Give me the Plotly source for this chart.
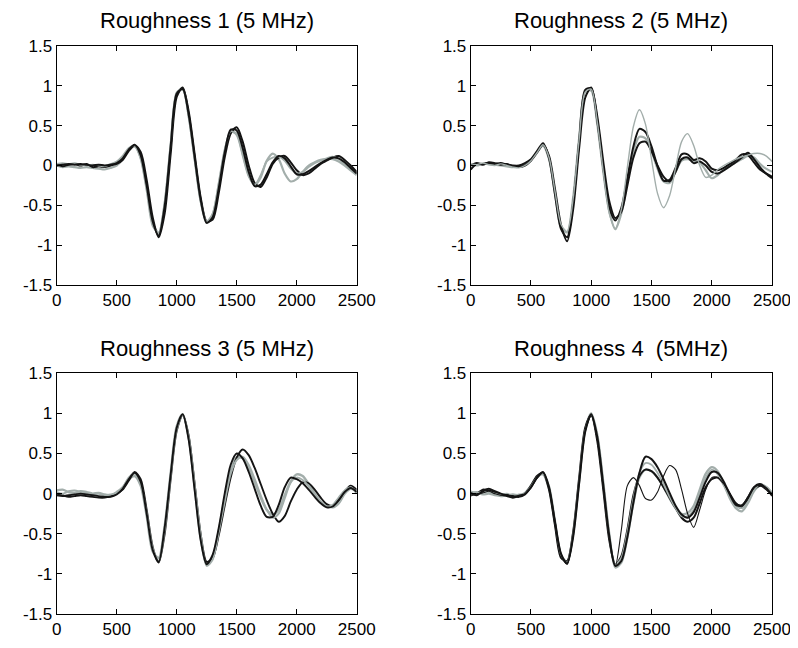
import plotly.graph_objects as go

# sample positions shared by every trace
X_GRID = [0, 50, 100, 150, 200, 250, 300, 350, 400, 450,
          500, 550, 600, 650, 700, 750, 800, 850, 900, 950,
          1000, 1050, 1100, 1150, 1200, 1250, 1300, 1350, 1400, 1450,
          1500, 1550, 1600, 1650, 1700, 1750, 1800, 1850, 1900, 1950,
          2000, 2050, 2100, 2150, 2200, 2250, 2300, 2350, 2400, 2450,
          2500]

TITLES = ["Roughness 1 (5 MHz)", "Roughness 2 (5 MHz)",
          "Roughness 3 (5 MHz)", "Roughness 4  (5MHz)"]

XTICK_VALS = [0, 500, 1000, 1500, 2000, 2500]
XTICK_TEXT = ["0", "500", "1000", "1500", "2000", "2500"]
YTICK_VALS = [-1.5, -1, -0.5, 0, 0.5, 1, 1.5]
YTICK_TEXT = ["-1.5", "-1", "-0.5", "0", "0.5", "1", "1.5"]

# ---- Roughness 1
P1_BLACK_A = [0.0, 0.01, 0.02, 0.01, 0.02, 0.01, 0.0, 0.01, 0.0, 0.01,
              0.03, 0.09, 0.2, 0.26, 0.13, -0.25, -0.7, -0.88, -0.51, 0.24,
              0.9, 0.96, 0.64, 0.1, -0.43, -0.72, -0.65, -0.29, 0.16, 0.45,
              0.44, 0.22, -0.08, -0.26, -0.24, -0.11, 0.04, 0.12, 0.09, -0.01,
              -0.11, -0.11, -0.07, -0.02, 0.03, 0.07, 0.1, 0.09, 0.04, -0.03,
              -0.1]
P1_BLACK_B = [0.02, -0.01, 0.01, 0.02, 0.0, 0.02, -0.02, -0.01, -0.02, 0.0,
              0.02, 0.07, 0.18, 0.25, 0.17, -0.18, -0.65, -0.9, -0.6, 0.15,
              0.86, 0.98, 0.68, 0.14, -0.4, -0.7, -0.68, -0.35, 0.1, 0.4,
              0.48, 0.3, 0.0, -0.22, -0.27, -0.15, 0.02, 0.1, 0.12, 0.04,
              -0.06, -0.12, -0.1, -0.04, 0.02, 0.06, 0.1, 0.12, 0.07, 0.0,
              -0.08]
P1_GRAY_A = [0.0, -0.02, -0.01, -0.02, -0.03, -0.02, -0.03, -0.04, -0.05, -0.03,
             0.0, 0.08, 0.2, 0.24, 0.1, -0.28, -0.72, -0.85, -0.48, 0.26,
             0.9, 0.97, 0.62, 0.08, -0.45, -0.72, -0.62, -0.25, 0.18, 0.42,
             0.4, 0.15, -0.12, -0.25, -0.15, 0.06, 0.15, 0.08, -0.1, -0.2,
             -0.17, -0.08, 0.0, 0.04, 0.07, 0.08, 0.08, 0.05, 0.0, -0.06,
             -0.12]
P1_GRAY_B = [0.02, 0.03, 0.02, 0.03, 0.01, 0.0, 0.01, 0.0, -0.01, 0.02,
             0.05, 0.12, 0.22, 0.25, 0.08, -0.32, -0.76, -0.84, -0.45, 0.28,
             0.92, 0.95, 0.6, 0.06, -0.46, -0.7, -0.6, -0.22, 0.2, 0.43,
             0.38, 0.12, -0.14, -0.24, -0.12, 0.05, 0.1, 0.11, 0.06, -0.04,
             -0.1, -0.08, -0.02, 0.03, 0.06, 0.09, 0.11, 0.08, 0.02, -0.05,
             -0.1]

# ---- Roughness 2
P2_BLACK_A = [-0.05, 0.02, 0.02, 0.03, 0.02, 0.03, 0.01, 0.0, 0.0, 0.03,
              0.08, 0.18, 0.28, 0.09, -0.37, -0.8, -0.9, -0.47, 0.31, 0.95,
              0.97, 0.56, -0.03, -0.53, -0.69, -0.53, -0.16, 0.24, 0.46, 0.42,
              0.24, -0.01, -0.19, -0.18, -0.03, 0.14, 0.14, 0.07, 0.09, 0.05,
              -0.04, -0.06, -0.03, 0.02, 0.07, 0.14, 0.13, 0.04, -0.05, -0.1,
              -0.14]
P2_BLACK_B = [0.0, 0.03, 0.01, 0.04, 0.03, 0.01, 0.02, -0.01, -0.02, 0.0,
              0.06, 0.16, 0.26, 0.12, -0.3, -0.75, -0.95, -0.55, 0.22, 0.85,
              0.98, 0.62, 0.05, -0.45, -0.66, -0.58, -0.25, 0.1, 0.28, 0.3,
              0.18, 0.0, -0.14, -0.2, -0.08, 0.08, 0.1, 0.03, 0.05, 0.0,
              -0.08, -0.1, -0.06, -0.01, 0.04, 0.1, 0.16, 0.08, -0.02, -0.1,
              -0.16]
P2_GRAY_A = [0.01, 0.0, 0.02, 0.02, 0.01, 0.0, -0.01, -0.02, -0.01, 0.02,
             0.07, 0.17, 0.25, 0.08, -0.36, -0.78, -0.84, -0.4, 0.35, 0.93,
             0.94, 0.52, -0.08, -0.58, -0.8, -0.6, -0.2, 0.18, 0.36, 0.34,
             0.18, -0.04, -0.2, -0.22, -0.08, 0.06, 0.08, 0.06, 0.04, -0.06,
             -0.16, -0.12, -0.05, 0.0, 0.04, 0.08, 0.12, 0.1, 0.02, -0.04,
             -0.08]
P2_GRAY_OUT = [0.02, 0.01, 0.03, 0.01, 0.0, 0.02, 0.0, -0.02, -0.03, 0.0,
               0.06, 0.16, 0.26, 0.1, -0.33, -0.74, -0.83, -0.42, 0.33, 0.92,
               0.96, 0.55, -0.08, -0.6, -0.79, -0.55, -0.02, 0.49, 0.7, 0.52,
               0.08, -0.35, -0.53, -0.38, -0.03, 0.3, 0.4, 0.25, 0.0, -0.15,
               -0.12, -0.05, 0.0, 0.04, 0.08, 0.11, 0.13, 0.15, 0.15, 0.12,
               0.05]

# ---- Roughness 3
P3_BLACK_A = [-0.02, -0.03, -0.02, -0.01, 0.0, -0.01, -0.02, -0.03, -0.04, -0.04,
              -0.01, 0.06, 0.18, 0.26, 0.15, -0.25, -0.7, -0.85, -0.42, 0.24,
              0.82, 0.99, 0.67, 0.04, -0.58, -0.88, -0.76, -0.43, 0.0, 0.36,
              0.5, 0.44, 0.27, 0.06, -0.15, -0.29, -0.29, -0.14, 0.08, 0.2,
              0.18, 0.13, 0.05, -0.04, -0.12, -0.17, -0.16, -0.08, 0.02, 0.07,
              0.02]
P3_BLACK_B = [0.0, -0.02, -0.04, -0.03, -0.02, -0.03, -0.04, -0.05, -0.05, -0.03,
              0.0, 0.05, 0.16, 0.27, 0.18, -0.2, -0.66, -0.86, -0.5, 0.18,
              0.78, 0.98, 0.72, 0.12, -0.5, -0.85, -0.8, -0.52, -0.15, 0.2,
              0.45, 0.55, 0.48, 0.32, 0.12, -0.08, -0.25, -0.35, -0.28, -0.1,
              0.05, 0.14, 0.13, 0.05, -0.05, -0.13, -0.15, -0.08, 0.03, 0.1,
              0.05]
P3_GRAY_A = [0.04, 0.05, 0.02, 0.01, 0.03, 0.02, 0.0, 0.01, -0.01, -0.02,
             0.02, 0.08, 0.18, 0.22, 0.1, -0.28, -0.72, -0.8, -0.4, 0.26,
             0.84, 0.99, 0.7, 0.08, -0.56, -0.88, -0.8, -0.47, -0.07, 0.28,
             0.45, 0.44, 0.32, 0.14, -0.05, -0.2, -0.26, -0.2, -0.02, 0.15,
             0.24, 0.22, 0.12, 0.0, -0.1, -0.15, -0.17, -0.12, 0.0, 0.06,
             0.03]
P3_GRAY_B = [0.02, 0.0, 0.03, 0.04, 0.02, 0.0, -0.01, 0.0, -0.02, -0.01,
             0.01, 0.07, 0.2, 0.25, 0.12, -0.24, -0.68, -0.84, -0.45, 0.22,
             0.8, 0.98, 0.7, 0.1, -0.52, -0.9, -0.82, -0.48, -0.1, 0.25,
             0.42, 0.46, 0.36, 0.18, -0.02, -0.2, -0.3, -0.25, -0.06, 0.14,
             0.2, 0.17, 0.09, -0.02, -0.1, -0.16, -0.14, -0.05, 0.04, 0.08,
             0.0]

# ---- Roughness 4
P4_BLACK_A = [0.0, -0.02, 0.03, 0.06, 0.03, 0.0, -0.02, -0.03, -0.04, -0.01,
              0.08, 0.2, 0.27, 0.08, -0.36, -0.75, -0.87, -0.54, 0.13, 0.77,
              0.99, 0.71, 0.11, -0.53, -0.9, -0.84, -0.54, -0.11, 0.26, 0.46,
              0.43, 0.33, 0.18, 0.01, -0.15, -0.26, -0.3, -0.23, -0.05, 0.15,
              0.27, 0.26, 0.15, -0.01, -0.14, -0.15, -0.05, 0.08, 0.12, 0.07,
              -0.02]
P4_BLACK_B = [0.02, 0.0, 0.05, 0.04, 0.02, -0.01, -0.03, -0.05, -0.03, 0.0,
              0.1, 0.22, 0.26, 0.05, -0.4, -0.8, -0.84, -0.48, 0.2, 0.82,
              0.98, 0.66, 0.05, -0.58, -0.88, -0.78, -0.45, -0.02, 0.22, 0.3,
              0.28, 0.2, 0.08, -0.05, -0.18, -0.3, -0.35, -0.3, -0.12, 0.08,
              0.18, 0.2, 0.12, 0.0, -0.12, -0.17, -0.08, 0.05, 0.1, 0.08,
              0.0]
P4_BLACK_OUT = [-0.03, 0.0, 0.01, 0.03, 0.0, -0.02, -0.01, -0.04, -0.02, 0.0,
                0.07, 0.19, 0.26, 0.08, -0.34, -0.76, -0.88, -0.52, 0.15, 0.78,
                0.97, 0.68, 0.08, -0.55, -0.9, -0.45, 0.1, 0.2, 0.1, -0.06,
                -0.08, 0.02, 0.22, 0.35, 0.3, 0.05, -0.25, -0.42, -0.2, 0.05,
                0.2, 0.2, 0.12, 0.0, -0.12, -0.14, -0.04, 0.08, 0.1, 0.05,
                -0.03]
P4_GRAY_A = [0.01, 0.02, -0.01, 0.0, -0.02, -0.03, -0.02, -0.01, -0.02, 0.01,
             0.1, 0.21, 0.24, 0.06, -0.38, -0.78, -0.85, -0.5, 0.16, 0.8,
             1.0, 0.74, 0.15, -0.5, -0.92, -0.86, -0.55, -0.12, 0.2, 0.3,
             0.28, 0.2, 0.08, -0.06, -0.18, -0.25, -0.24, -0.15, 0.05, 0.25,
             0.33, 0.28, 0.12, -0.06, -0.18, -0.22, -0.12, 0.03, 0.1, 0.08,
             0.0]
P4_GRAY_B = [0.03, 0.01, 0.02, 0.02, 0.0, -0.01, 0.0, -0.03, -0.01, 0.0,
             0.09, 0.2, 0.25, 0.1, -0.33, -0.76, -0.86, -0.52, 0.14, 0.78,
             0.98, 0.72, 0.13, -0.52, -0.88, -0.8, -0.48, -0.06, 0.26, 0.38,
             0.36, 0.26, 0.12, -0.04, -0.18, -0.28, -0.28, -0.2, 0.0, 0.2,
             0.3, 0.24, 0.1, -0.04, -0.15, -0.18, -0.1, 0.04, 0.12, 0.09,
             0.02]

BLACK = "#141414"
GRAY = "#a3aeab"

# (y values, colour, width) drawn in order, per panel
panels = [
    [(P1_GRAY_A, GRAY, 2.2), (P1_BLACK_B, BLACK, 2.0), (P1_GRAY_B, GRAY, 1.8), (P1_BLACK_A, BLACK, 2.0)],
    [(P2_GRAY_A, GRAY, 2.2), (P2_BLACK_B, BLACK, 2.0), (P2_BLACK_A, BLACK, 2.0), (P2_GRAY_OUT, GRAY, 1.4)],
    [(P3_GRAY_A, GRAY, 2.4), (P3_BLACK_B, BLACK, 1.9), (P3_GRAY_B, GRAY, 2.0), (P3_BLACK_A, BLACK, 1.9)],
    [(P4_GRAY_A, GRAY, 2.2), (P4_BLACK_B, BLACK, 2.0), (P4_GRAY_B, GRAY, 1.8), (P4_BLACK_A, BLACK, 2.0),
     (P4_BLACK_OUT, BLACK, 1.1)],
]

# the page body adds an 8px margin, so the figure is 790x640 and
# domains are measured from that offset
x_domains = [[0.0616, 0.4414], [0.5857, 0.9671], [0.0616, 0.4414], [0.5857, 0.9671]]
y_domains = [[0.5672, 0.9406], [0.5672, 0.9406], [0.0531, 0.4292], [0.0531, 0.4292]]
title_y = [0.9797, 0.9797, 0.4672, 0.4672]

FONT = "Liberation Sans, Arial, sans-serif"

fig = go.Figure()
for i, traces in enumerate(panels):
    n = "" if i == 0 else str(i + 1)
    for ys, col, w in traces:
        fig.add_trace(go.Scatter(
            x=X_GRID, y=ys, mode="lines",
            line=dict(color=col, width=w, shape="spline", smoothing=0.8),
            xaxis="x" + n, yaxis="y" + n, showlegend=False, hoverinfo="skip"))

layout = dict(
    width=790, height=640,
    margin=dict(l=0, r=0, t=0, b=0),
    paper_bgcolor="white", plot_bgcolor="white",
    font=dict(family=FONT, color="black"),
    showlegend=False,
    annotations=[],
)
for i in range(4):
    n = "" if i == 0 else str(i + 1)
    common = dict(
        ticks="inside", ticklen=5, tickcolor="black",
        showline=True, linecolor="black", linewidth=1, mirror="ticks",
        showgrid=False, zeroline=False, automargin=False,
        tickfont=dict(size=17, family=FONT, color="black"))
    layout["xaxis" + n] = dict(
        domain=x_domains[i], anchor="y" + n, range=[0, 2500],
        tickvals=XTICK_VALS, ticktext=XTICK_TEXT, **common)
    layout["yaxis" + n] = dict(
        domain=y_domains[i], anchor="x" + n, range=[-1.5, 1.5],
        tickvals=YTICK_VALS, ticktext=YTICK_TEXT, **common)
    layout["annotations"].append(dict(
        text=TITLES[i], xref="paper", yref="paper",
        x=sum(x_domains[i]) / 2, y=title_y[i],
        xanchor="center", yanchor="middle", showarrow=False,
        font=dict(size=22, family=FONT, color="black")))

fig.update_layout(**layout)
fig.write_html("out.html")
